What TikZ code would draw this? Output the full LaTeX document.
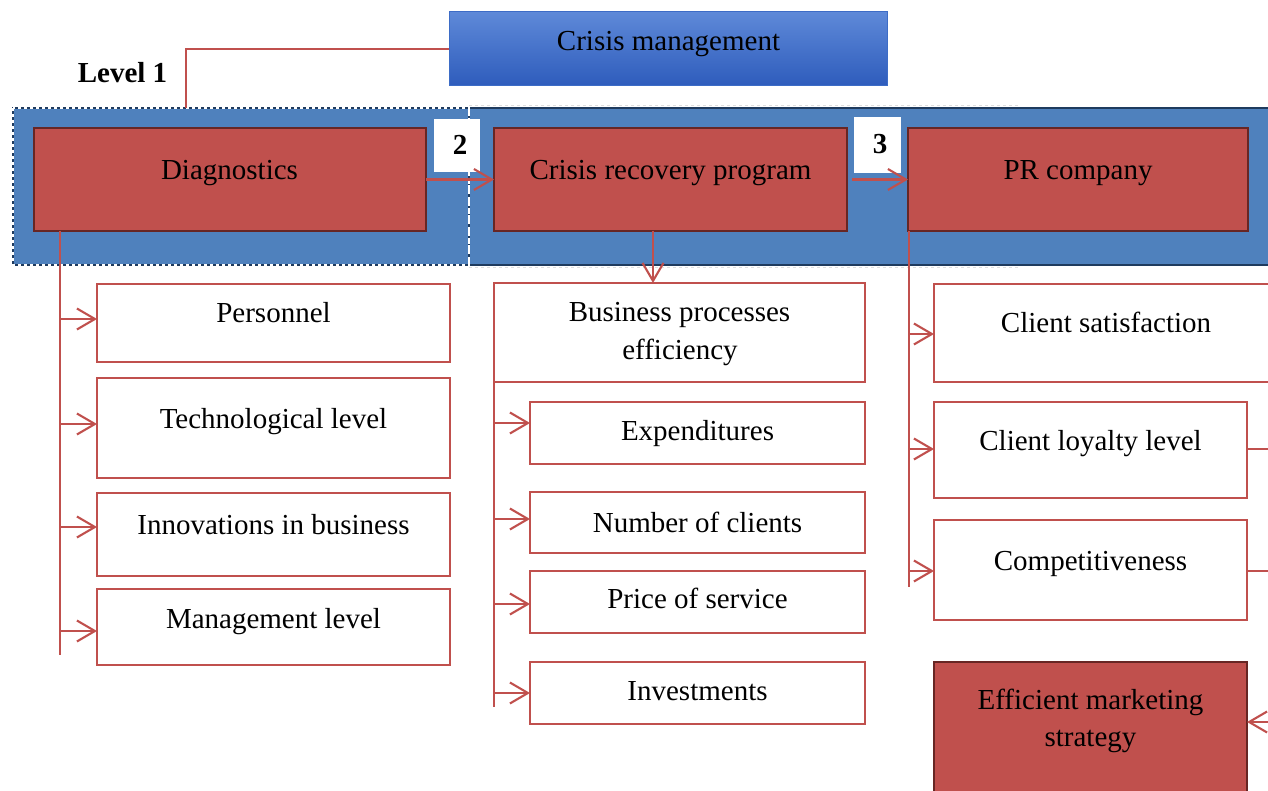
\documentclass[tikz,border=0pt]{standalone}
\usepackage{fontspec}
\setmainfont{Liberation Serif}
\usetikzlibrary{arrows.meta}
\definecolor{rd}{HTML}{C0504D}
\definecolor{drd}{HTML}{672624}
\definecolor{bl}{HTML}{4F81BD}
\definecolor{nv}{HTML}{1F3B5E}
\definecolor{cmtop}{HTML}{5E89D8}
\definecolor{cmbot}{HTML}{2E5CBC}
\definecolor{cmdraw}{HTML}{3D6CC6}
\begin{document}
\begin{tikzpicture}[x=1pt,y=-1pt,
  every node/.style={inner sep=0pt, outer sep=0pt},
  txt/.style={font=\fontsize{29}{37}\selectfont, anchor=base},
  btxt/.style={font=\fontsize{29}{37}\selectfont\bfseries, anchor=base},
  wbox/.style={draw=rd, line width=2.2pt, fill=white},
  rbox/.style={draw=drd, line width=2.2pt, fill=rd},
  conn/.style={draw=rd, line width=2.1pt},
  arr/.style={conn, -{Straight Barb[length=18pt,width=21pt,line width=2.1pt]}},
]
\clip (0,0) rectangle (1268,791);
\path[use as bounding box] (0,0) rectangle (1268,791);

% band
\node[fill=bl, minimum width=1278pt, minimum height=157pt] (band) at (651,186.5) {};
\draw[nv, line width=1.5pt] (469,108) -- (1290,108) (469,265) -- (1290,265);
\draw[gray!25, line width=0.8pt, dash pattern=on 3pt off 3pt] (469,105.5) -- (1020,105.5) (469,267.5) -- (1020,267.5);
\draw[nv, line width=1.3pt] (13,108) rectangle (469,265);
\draw[white, line width=1.3pt, dash pattern=on 3pt off 3pt] (13,108) rectangle (469,265);
\draw[white, line width=2pt, dash pattern=on 6pt off 4pt] (469,108) -- (469,265);

% crisis management
\node[draw=cmdraw, line width=1pt, top color=cmtop, bottom color=cmbot, minimum width=438pt, minimum height=74pt] (cm) at (668,49) {};
\node[txt] (cmt) at (668.5,51) {Crisis management};
\node[btxt] (lvl) at (122.5,83) {Level 1};
\coordinate (lv) at (186,108);
\draw[conn] (cm.west) -| (lv);

% level 1 boxes
\node[rbox, minimum width=392pt, minimum height=103pt] (diag) at (230,179.5) {};
\node[txt] at (229.5,180) {Diagnostics};
\node[rbox, minimum width=353pt, minimum height=103pt] (crp) at (670.5,179.5) {};
\node[txt] at (670.5,180) {Crisis recovery program};
\node[rbox, minimum width=340pt, minimum height=103pt] (pr) at (1078,179.5) {};
\node[txt] at (1078,180) {PR company};
\node[fill=white, minimum width=46pt, minimum height=53pt] (n2) at (457,145.5) {};
\node[btxt] at (460,155) {2};
\node[fill=white, minimum width=47pt, minimum height=56pt] (n3) at (877.5,145) {};
\node[btxt] at (880,154) {3};

\draw[arr] (diag.east) -- (crp.west);
\draw[arr] ([xshift=5pt]crp.east) -- (pr.west);

% left column
\node[wbox, minimum width=353pt, minimum height=78pt] (pers) at (273.5,323) {};
\node[txt] at (273.5,323) {Personnel};
\node[wbox, minimum width=353pt, minimum height=100pt] (tech) at (273.5,428) {};
\node[txt] at (273.5,428) {Technological level};
\node[wbox, minimum width=353pt, minimum height=83pt] (innov) at (273.5,534.5) {};
\node[txt] at (273.5,534) {Innovations in business};
\node[wbox, minimum width=353pt, minimum height=76pt] (mgmt) at (273.5,627) {};
\node[txt] at (273.5,628) {Management level};

\coordinate (lt) at (60,655);
\draw[conn] (diag.south -| 60,0) -- (lt);
\draw[arr] (60,319) -- (pers.west |- 0,319);
\draw[arr] (60,424) -- (tech.west |- 0,424);
\draw[arr] (60,527) -- (innov.west |- 0,527);
\draw[arr] (60,631) -- (mgmt.west |- 0,631);

% middle column
\node[wbox, minimum width=371pt, minimum height=99pt] (bpe) at (679.5,332.5) {};
\node[txt] at (679.5,322) {Business processes};
\node[txt] at (680,359) {efficiency};
\draw[arr] (crp.south -| 653,0) -- (bpe.north -| 653,0);

\node[wbox, minimum width=335pt, minimum height=62pt] (exp) at (697.5,433) {};
\node[txt] at (697.5,440) {Expenditures};
\node[wbox, minimum width=335pt, minimum height=61pt] (noc) at (697.5,522.5) {};
\node[txt] at (697.5,532) {Number of clients};
\node[wbox, minimum width=335pt, minimum height=62pt] (pos) at (697.5,602) {};
\node[txt] at (697.5,608) {Price of service};
\node[wbox, minimum width=335pt, minimum height=62pt] (inv) at (697.5,693) {};
\node[txt] at (697.5,700) {Investments};

\coordinate (mt) at (494,707);
\draw[conn] (bpe.south west) -- (mt);
\draw[arr] (494,423) -- (exp.west |- 0,423);
\draw[arr] (494,519) -- (noc.west |- 0,519);
\draw[arr] (494,604) -- (pos.west |- 0,604);
\draw[arr] (494,693) -- (inv.west |- 0,693);

% right column
\node[wbox, minimum width=356pt, minimum height=98pt] (cs) at (1112,333) {};
\node[txt] at (1106,332) {Client satisfaction};
\node[wbox, minimum width=313pt, minimum height=96pt] (cll) at (1090.5,450) {};
\node[txt] at (1090.5,450) {Client loyalty level};
\node[wbox, minimum width=313pt, minimum height=100pt] (comp) at (1090.5,570) {};
\node[txt] at (1090.5,570) {Competitiveness};
\node[rbox, minimum width=313pt, minimum height=148pt] (ems) at (1090.5,736) {};
\node[txt] at (1090.5,709) {Efficient marketing};
\node[txt] at (1090.5,746) {strategy};

\coordinate (rt) at (909,587);
\draw[conn] (pr.south -| 909,0) -- (rt);
\draw[arr] (909,334) -- (cs.west |- 0,334);
\draw[arr] (909,449) -- (cll.west |- 0,449);
\draw[arr] (909,571) -- (comp.west |- 0,571);

\coordinate (e1) at (1290,449);
\coordinate (e2) at (1290,571);
\coordinate (e3) at (1290,722);
\draw[conn] (cll.east |- e1) -- (e1);
\draw[conn] (comp.east |- e2) -- (e2);
\draw[arr] (e3) -- (ems.east |- e3);
\end{tikzpicture}
\end{document}
